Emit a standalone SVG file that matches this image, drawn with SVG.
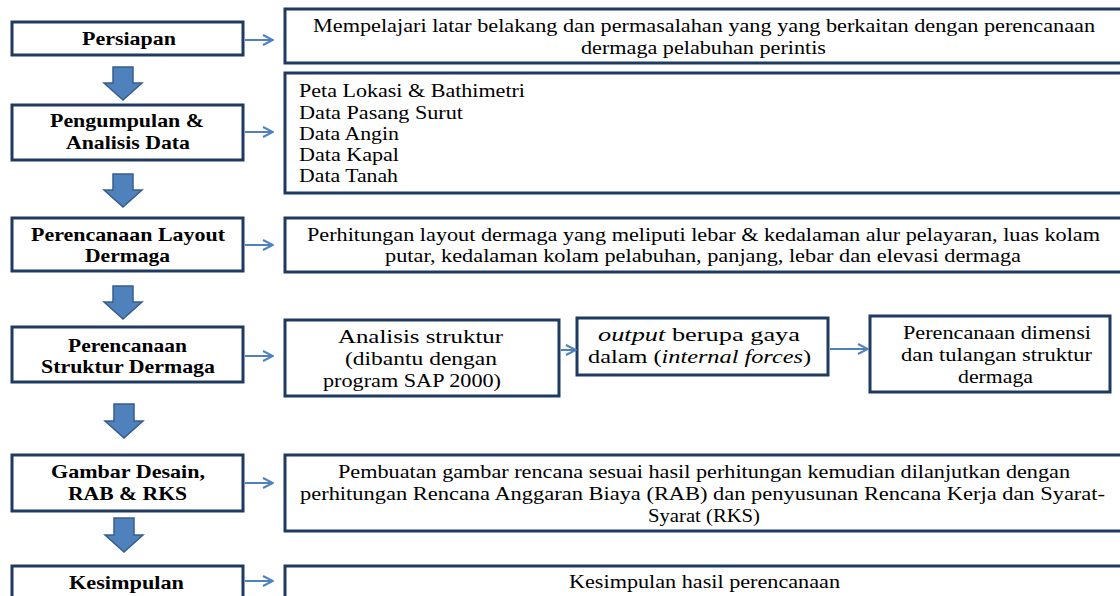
<svg xmlns="http://www.w3.org/2000/svg" width="1120" height="596" viewBox="0 0 1120 596">
<defs>
<marker id="ah" viewBox="0 0 12 12" refX="11" refY="6" markerWidth="12" markerHeight="12" markerUnits="userSpaceOnUse" orient="auto">
<path d="M1,1 L11,6 L1,11" fill="none" stroke="#4F81BD" stroke-width="2"/>
</marker>
</defs>
<style>
.box{fill:#fff;stroke:#1F3A60;stroke-width:3}
.lbl{font-family:"Liberation Serif","Times New Roman",serif;font-weight:bold;font-size:19px;fill:#000;text-anchor:middle}
.txt{font-family:"Liberation Serif","Times New Roman",serif;font-size:19px;fill:#000;text-anchor:middle}
.txl{font-family:"Liberation Serif","Times New Roman",serif;font-size:19px;fill:#000}
.blk{fill:#4F81BD;stroke:#385D8A;stroke-width:1.5}
.con{stroke:#4F81BD;stroke-width:2;fill:none;marker-end:url(#ah)}
</style>
<rect width="1120" height="596" fill="#fff"/>

<g id="n-persiapan"><rect class="box" x="12" y="22" width="231" height="33"/><text class="lbl" x="129" y="45" textLength="94" lengthAdjust="spacingAndGlyphs">Persiapan</text></g>
<g id="n-pengumpulan"><rect class="box" x="12" y="105" width="231" height="55"/><text class="lbl" x="127" y="127" textLength="154" lengthAdjust="spacingAndGlyphs">Pengumpulan &amp;</text><text class="lbl" x="128" y="149" textLength="124" lengthAdjust="spacingAndGlyphs">Analisis Data</text></g>
<g id="n-layout"><rect class="box" x="12" y="218" width="231" height="53"/><text class="lbl" x="128" y="241" textLength="194" lengthAdjust="spacingAndGlyphs">Perencanaan Layout</text><text class="lbl" x="127.5" y="262" textLength="85" lengthAdjust="spacingAndGlyphs">Dermaga</text></g>
<g id="n-struktur"><rect class="box" x="12" y="327" width="231" height="55"/><text class="lbl" x="127.5" y="352" textLength="119" lengthAdjust="spacingAndGlyphs">Perencanaan</text><text class="lbl" x="128" y="373" textLength="174" lengthAdjust="spacingAndGlyphs">Struktur Dermaga</text></g>
<g id="n-gambar"><rect class="box" x="12" y="455" width="231" height="56"/><text class="lbl" x="128" y="478" textLength="154" lengthAdjust="spacingAndGlyphs">Gambar Desain,</text><text class="lbl" x="127.5" y="500" textLength="119" lengthAdjust="spacingAndGlyphs">RAB &amp; RKS</text></g>
<g id="n-kesimpulan"><rect class="box" x="12" y="566" width="231" height="40"/><text class="lbl" x="126.5" y="589" textLength="115" lengthAdjust="spacingAndGlyphs">Kesimpulan</text></g>

<g id="r-persiapan"><rect class="box" x="285" y="9" width="840" height="54"/><text class="txt" x="704" y="32" textLength="782" lengthAdjust="spacingAndGlyphs">Mempelajari latar belakang dan permasalahan yang yang berkaitan dengan perencanaan</text><text class="txt" x="703.5" y="54" textLength="245" lengthAdjust="spacingAndGlyphs">dermaga pelabuhan perintis</text></g>
<g id="r-data"><rect class="box" x="285" y="73" width="840" height="120"/><text class="txl" x="299" y="97" textLength="226" lengthAdjust="spacingAndGlyphs">Peta Lokasi &amp; Bathimetri</text><text class="txl" x="299" y="118.5" textLength="164" lengthAdjust="spacingAndGlyphs">Data Pasang Surut</text><text class="txl" x="299" y="140" textLength="100" lengthAdjust="spacingAndGlyphs">Data Angin</text><text class="txl" x="299" y="161" textLength="100" lengthAdjust="spacingAndGlyphs">Data Kapal</text><text class="txl" x="299" y="182" textLength="99" lengthAdjust="spacingAndGlyphs">Data Tanah</text></g>
<g id="r-layout"><rect class="box" x="285" y="218" width="840" height="54"/><text class="txt" x="703.5" y="241" textLength="793" lengthAdjust="spacingAndGlyphs">Perhitungan layout dermaga yang meliputi lebar &amp; kedalaman alur pelayaran, luas kolam</text><text class="txt" x="703" y="262" textLength="636" lengthAdjust="spacingAndGlyphs">putar, kedalaman kolam pelabuhan, panjang, lebar dan elevasi dermaga</text></g>
<g id="r-analisis"><rect class="box" x="285" y="320" width="274" height="76"/><text class="txt" x="420.5" y="343" textLength="165" lengthAdjust="spacingAndGlyphs">Analisis struktur</text><text class="txt" x="421" y="365" textLength="152" lengthAdjust="spacingAndGlyphs">(dibantu dengan</text><text class="txt" x="412" y="387" textLength="178" lengthAdjust="spacingAndGlyphs">program SAP 2000)</text></g>
<g id="r-output"><rect class="box" x="577" y="318" width="251" height="57"/><text class="txt" x="699" y="341" textLength="202" lengthAdjust="spacingAndGlyphs"><tspan font-style="italic">output</tspan> berupa gaya</text><text class="txt" x="699.5" y="363" textLength="223" lengthAdjust="spacingAndGlyphs">dalam (<tspan font-style="italic">internal forces</tspan>)</text></g>
<g id="r-dimensi"><rect class="box" x="870" y="316" width="240" height="76"/><text class="txt" x="997" y="339" textLength="188" lengthAdjust="spacingAndGlyphs">Perencanaan dimensi</text><text class="txt" x="996.5" y="361" textLength="191" lengthAdjust="spacingAndGlyphs">dan tulangan struktur</text><text class="txt" x="995.5" y="383" textLength="75" lengthAdjust="spacingAndGlyphs">dermaga</text></g>
<g id="r-gambar"><rect class="box" x="285" y="455" width="840" height="76"/><text class="txt" x="704" y="478" textLength="732" lengthAdjust="spacingAndGlyphs">Pembuatan gambar rencana sesuai hasil perhitungan kemudian dilanjutkan dengan</text><text class="txt" x="702.5" y="500" textLength="805" lengthAdjust="spacingAndGlyphs">perhitungan Rencana Anggaran Biaya (RAB) dan penyusunan Rencana Kerja dan Syarat-</text><text class="txt" x="704" y="522" textLength="112" lengthAdjust="spacingAndGlyphs">Syarat (RKS)</text></g>
<g id="r-kesimpulan"><rect class="box" x="285" y="566" width="840" height="40"/><text class="txt" x="704.5" y="588" textLength="271" lengthAdjust="spacingAndGlyphs">Kesimpulan hasil perencanaan</text></g>

<g id="connectors">
<path class="blk" d="M113,67 H133 V83 H142 L123,100 L104,83 H113 Z"/>
<path class="blk" d="M113,174 H133 V190 H142 L123,207 L104,190 H113 Z"/>
<path class="blk" d="M113,286 H133 V302 H142 L123,319 L104,302 H113 Z"/>
<path class="blk" d="M114,404 H134 V421 H143 L124,438 L105,421 H114 Z"/>
<path class="blk" d="M114,518 H134 V535 H143 L124,552 L105,535 H114 Z"/>
<line class="con" x1="245" y1="40" x2="273" y2="40"/>
<line class="con" x1="245" y1="132" x2="273" y2="132"/>
<line class="con" x1="245" y1="245" x2="273" y2="245"/>
<line class="con" x1="245" y1="356" x2="273" y2="356"/>
<line class="con" x1="245" y1="483" x2="273" y2="483"/>
<line class="con" x1="245" y1="581" x2="273" y2="581"/>
<line class="con" x1="561" y1="350" x2="576" y2="350"/>
<line class="con" x1="830" y1="349" x2="868" y2="349"/>
</g>
</svg>
